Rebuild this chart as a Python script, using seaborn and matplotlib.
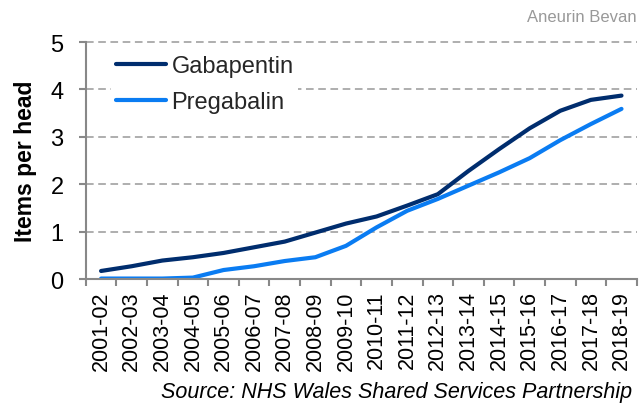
import matplotlib
matplotlib.use("Agg")
import matplotlib.pyplot as plt
import seaborn as sns
import pandas as pd
from matplotlib.ticker import FixedLocator

periods = ["2001-02", "2002-03", "2003-04", "2004-05", "2005-06", "2006-07",
           "2007-08", "2008-09", "2009-10", "2010-11", "2011-12", "2012-13",
           "2013-14", "2014-15", "2015-16", "2016-17", "2017-18", "2018-19"]
gabapentin = [0.17, 0.27, 0.39, 0.46, 0.55, 0.67, 0.79, 0.98, 1.17, 1.32,
              1.55, 1.79, 2.28, 2.74, 3.18, 3.55, 3.78, 3.87]
pregabalin = [0.01, 0.01, 0.01, 0.03, 0.19, 0.27, 0.38, 0.46, 0.70, 1.09,
              1.44, 1.69, 1.97, 2.25, 2.55, 2.93, 3.27, 3.59]
series_names = ["Gabapentin", "Pregabalin"]
colors = ["#002D6E", "#0A7CF2"]

df = pd.DataFrame({
    "period": periods * 2,
    "value": gabapentin + pregabalin,
    "drug": [series_names[0]] * len(periods) + [series_names[1]] * len(periods),
})

sns.set_theme(style="white")
plt.rcParams["font.family"] = ["Liberation Sans", "DejaVu Sans"]

fig = plt.figure(figsize=(6.4, 4.1), dpi=100)
ax = fig.add_axes([0.134, 0.317, 0.861, 0.578])

sns.lineplot(data=df, x="period", y="value", hue="drug", palette=colors,
             linewidth=3.0, ax=ax, sort=False, legend=True)

ax.set_xlim(-0.5, len(periods) - 0.5)
ax.set_ylim(0, 5)
ax.set_yticks([0, 1, 2, 3, 4, 5])
ax.yaxis.grid(True, color="#999999", linestyle=(0, (5, 3)), linewidth=1.1)
ax.xaxis.grid(False)
ax.set_axisbelow(True)
for gl in ax.get_ygridlines():
    gl.set_clip_on(False)

for s in ["top", "right"]:
    ax.spines[s].set_visible(False)
for s in ["left", "bottom"]:
    ax.spines[s].set_color("#888888")
    ax.spines[s].set_linewidth(1.5)

ax.xaxis.set_minor_locator(FixedLocator([i - 0.5 for i in range(len(periods) + 1)]))
ax.tick_params(axis="x", which="major", length=0, pad=8, labelsize=15.5,
               labelrotation=90, colors="black")
ax.tick_params(axis="x", which="minor", length=5, width=1.5, color="#888888",
               direction="out", bottom=True)
ax.tick_params(axis="y", which="major", length=5, width=1.5, color="#888888",
               direction="out", left=True, pad=11, labelsize=17, labelcolor="black")

ax.set_xlabel("")
ax.set_ylabel("Items per head", fontsize=16.5, fontweight="bold", color="black")
ax.yaxis.set_label_coords(-0.088, 0.5)

leg = ax.legend(loc="upper left", bbox_to_anchor=(0.0465, 0.965), frameon=True,
                facecolor="white", edgecolor="none", framealpha=1.0, fancybox=False,
                fontsize=17, handlelength=2.1, handletextpad=0.25,
                labelspacing=0.6, borderpad=0.2, borderaxespad=0)
for line in leg.get_lines():
    line.set_linewidth(3.0)

fig.text(0.995, 0.958, "Aneurin Bevan", ha="right", va="center",
         fontsize=12, color="#999999")
fig.text(0.988, 0.042, "Source: NHS Wales Shared Services Partnership",
         ha="right", va="center", fontsize=15.5, style="italic", color="black")

fig.savefig("out.png", dpi=100)
